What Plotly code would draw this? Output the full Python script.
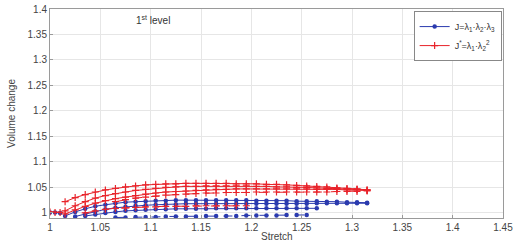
import plotly.graph_objects as go

# ---------------- data ----------------
START_X = [1.000, 1.005, 1.010]
START_Y_BLUE = [1.001, 1.001, 1.000]
START_Y_RED = [1.002, 1.001, 1.001]

X_A = [1.015, 1.025, 1.035, 1.045, 1.055, 1.065, 1.075, 1.085, 1.095, 1.105, 1.115, 1.125,
       1.135, 1.145, 1.155, 1.165, 1.175, 1.185, 1.195, 1.205, 1.215, 1.225, 1.235, 1.245,
       1.255, 1.265, 1.275, 1.285, 1.295, 1.305, 1.315]

# red series: J* = l1 * l2^2
R1 = [1.022, 1.030, 1.036, 1.041, 1.045, 1.048, 1.051, 1.053, 1.055, 1.056, 1.057, 1.057,
      1.058, 1.058, 1.058, 1.058, 1.058, 1.057, 1.057, 1.057, 1.056, 1.056, 1.055, 1.054,
      1.053, 1.052, 1.051, 1.049, 1.048, 1.047, 1.045]
R2 = [1.004, 1.014, 1.022, 1.029, 1.034, 1.038, 1.041, 1.044, 1.046, 1.048, 1.050, 1.051,
      1.052, 1.052, 1.053, 1.053, 1.053, 1.053, 1.053, 1.052, 1.052, 1.051, 1.051, 1.050,
      1.050, 1.049, 1.048, 1.048, 1.047, 1.046, 1.045]
R3 = [0.998, 1.006, 1.013, 1.019, 1.024, 1.028, 1.031, 1.034, 1.037, 1.039, 1.041, 1.042,
      1.043, 1.044, 1.045, 1.046, 1.046, 1.047, 1.047, 1.047, 1.047, 1.047, 1.047, 1.047,
      1.047, 1.046, 1.046, 1.046, 1.045, 1.045, 1.044]
X_R4 = [1.065, 1.075, 1.085, 1.095, 1.105, 1.115, 1.125, 1.135, 1.145, 1.155, 1.165, 1.175,
        1.185, 1.195, 1.205, 1.215, 1.225, 1.235, 1.245, 1.255, 1.265, 1.275, 1.285, 1.295,
        1.305, 1.315]
R4 = [1.022, 1.026, 1.029, 1.031, 1.033, 1.035, 1.036, 1.037, 1.038, 1.039, 1.039, 1.040,
      1.040, 1.040, 1.041, 1.041, 1.041, 1.041, 1.041, 1.041, 1.041, 1.041, 1.042, 1.042,
      1.042, 1.043]
X_R5 = [1.035, 1.045, 1.055, 1.065, 1.075, 1.085, 1.095, 1.105, 1.115, 1.125, 1.135, 1.145,
        1.155, 1.165, 1.175, 1.185, 1.195]
R5 = [1.000, 1.004, 1.007, 1.009, 1.010, 1.011, 1.012, 1.012, 1.013, 1.013, 1.013, 1.014,
      1.014, 1.014, 1.014, 1.014, 1.014]

# blue series: J = l1 * l2 * l3
B1 = [0.994, 1.002, 1.008, 1.013, 1.016, 1.019, 1.021, 1.022, 1.023, 1.024, 1.024, 1.025,
      1.025, 1.025, 1.025, 1.025, 1.025, 1.025, 1.025, 1.024, 1.024, 1.024, 1.024, 1.023,
      1.023, 1.023, 1.022, 1.022, 1.021, 1.021, 1.020]
X_B2 = [1.025, 1.035, 1.045, 1.055, 1.065, 1.075, 1.085, 1.095, 1.105, 1.115, 1.125, 1.135,
        1.145, 1.155, 1.165, 1.175, 1.185, 1.195, 1.205, 1.215, 1.225, 1.235, 1.245, 1.255,
        1.265, 1.275, 1.285, 1.295, 1.305, 1.315]
B2 = [0.993, 0.998, 1.003, 1.007, 1.010, 1.012, 1.014, 1.015, 1.016, 1.017, 1.017, 1.018,
      1.018, 1.018, 1.018, 1.018, 1.018, 1.018, 1.018, 1.018, 1.018, 1.018, 1.018, 1.018,
      1.019, 1.019, 1.019, 1.019, 1.019, 1.019]
X_B3 = [1.035, 1.045, 1.055, 1.065, 1.075, 1.085, 1.095, 1.105, 1.115, 1.125, 1.135, 1.145,
        1.155, 1.165, 1.175, 1.185, 1.195, 1.205, 1.215, 1.225, 1.235, 1.245, 1.255, 1.265]
B3 = [0.994, 0.997, 1.000, 1.002, 1.004, 1.005, 1.006, 1.007, 1.007, 1.008, 1.008, 1.008,
      1.008, 1.009, 1.009, 1.009, 1.009, 1.009, 1.009, 1.009, 1.009, 1.009, 1.009, 1.009]
X_B4 = [1.065, 1.075, 1.085, 1.095, 1.105, 1.115, 1.125, 1.135, 1.145, 1.155, 1.165, 1.175,
        1.185, 1.195, 1.205, 1.215, 1.225, 1.235, 1.245, 1.255]
B4 = [0.991, 0.991, 0.992, 0.992, 0.992, 0.993, 0.993, 0.993, 0.993, 0.994, 0.994, 0.994,
      0.994, 0.995, 0.995, 0.995, 0.995, 0.996, 0.996, 0.996]

X_TICKS = [1, 1.05, 1.1, 1.15, 1.2, 1.25, 1.3, 1.35, 1.4, 1.45]
Y_TICKS = [1, 1.05, 1.1, 1.15, 1.2, 1.25, 1.3, 1.35, 1.4]
X_LABELS = ["1", "1.05", "1.1", "1.15", "1.2", "1.25", "1.3", "1.35", "1.4", "1.45"]
Y_LABELS = ["1", "1.05", "1.1", "1.15", "1.2", "1.25", "1.3", "1.35", "1.4"]

BLUE = "#2a3aae"
RED = "#e8232a"
FONT = "Liberation Sans, Arial, sans-serif"

fig = go.Figure()

blue_curves = [(START_X, START_Y_BLUE), (X_A, B1), (X_B2, B2), (X_B3, B3), (X_B4, B4)]
red_curves = [(START_X, START_Y_RED), (X_A, R1), (X_A, R2), (X_A, R3), (X_R4, R4), (X_R5, R5)]

for i, (xs, ys) in enumerate(blue_curves):
    fig.add_trace(go.Scatter(
        x=xs, y=ys, mode="lines+markers",
        name="J=λ<sub>1</sub>·λ<sub>2</sub>·λ<sub>3</sub>",
        legendgroup="blue", showlegend=(i == 0),
        line=dict(color=BLUE, width=1, dash="dash" if i == 4 else "solid"),
        marker=dict(symbol="circle", size=4.5, color=BLUE),
    ))

for i, (xs, ys) in enumerate(red_curves):
    fig.add_trace(go.Scatter(
        x=xs, y=ys, mode="lines+markers",
        name="J<sup>*</sup>=λ<sub>1</sub>·λ<sub>2</sub><sup>2</sup>",
        legendgroup="red", showlegend=(i == 0),
        line=dict(color=RED, width=1, dash="dash" if i >= 4 else "solid"),
        marker=dict(symbol="cross-thin", size=5, color=RED, line=dict(color=RED, width=1.2)),
    ))

axis_common = dict(
    showgrid=True, gridcolor="#e6e6e6", gridwidth=1,
    showline=True, linecolor="#9a9a9a", linewidth=1, mirror=True,
    ticks="inside", ticklen=3, tickcolor="#9a9a9a",
    zeroline=False, automargin=False,
    tickfont=dict(family=FONT, size=10, color="#444"),
)

fig.update_layout(
    width=515, height=246,
    margin=dict(l=50, r=12, t=9, b=28),
    paper_bgcolor="white", plot_bgcolor="white",
    font=dict(family=FONT, size=10, color="#444"),
    xaxis=dict(range=[1, 1.45], tickvals=X_TICKS, ticktext=X_LABELS, **axis_common),
    yaxis=dict(range=[0.99, 1.4], tickvals=Y_TICKS, ticktext=Y_LABELS,
               title=dict(text="Volume change", standoff=10, font=dict(size=10)), **axis_common),
    legend=dict(x=0.997, y=0.99, xanchor="right", yanchor="top",
                bgcolor="white", bordercolor="#888", borderwidth=1,
                font=dict(family=FONT, size=9, color="#333"), tracegroupgap=0,
                itemwidth=30),
    showlegend=True,
)

fig.add_annotation(x=1.102, y=1.378, xref="x", yref="y",
                   text="1<sup>st</sup> level", showarrow=False,
                   font=dict(size=10, color="#333"))

fig.add_annotation(x=0.5, y=0, xref="paper", yref="paper", yshift=-18,
                   xanchor="center", yanchor="middle",
                   text="Stretch", showarrow=False,
                   font=dict(family=FONT, size=10, color="#444"))

fig.write_html(
    "out.html",
    config={"displayModeBar": False},
    post_script="document.body.style.margin='0';document.body.style.padding='0';"
                "document.body.style.overflow='hidden';",
)
